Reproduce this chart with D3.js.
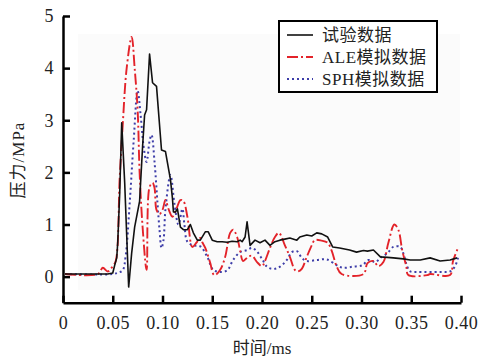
<!DOCTYPE html>
<html>
<head>
<meta charset="utf-8">
<script src="https://cdn.jsdelivr.net/npm/d3@7"></script>
<style>
  body { margin: 0; background: #fff; }
  svg { display: block; }
</style>
</head>
<body>
<script>
// time (ms) and pressure (MPa)
const expT = [0.002, 0.045, 0.050, 0.052, 0.054, 0.055, 0.057, 0.059, 0.062, 0.066, 0.069, 0.072, 0.077, 0.080, 0.082, 0.084, 0.087, 0.090, 0.094, 0.099, 0.103, 0.108, 0.110, 0.111, 0.113, 0.115, 0.118, 0.121, 0.125, 0.128, 0.131, 0.135, 0.138, 0.143, 0.146, 0.150, 0.155, 0.160, 0.165, 0.170, 0.175, 0.178, 0.180, 0.183, 0.185, 0.188, 0.193, 0.198, 0.203, 0.208, 0.213, 0.218, 0.223, 0.228, 0.235, 0.238, 0.245, 0.250, 0.255, 0.260, 0.266, 0.271, 0.278, 0.288, 0.295, 0.302, 0.306, 0.312, 0.319, 0.326, 0.332, 0.342, 0.349, 0.359, 0.369, 0.379, 0.389, 0.396];
const expP = [0.05, 0.05, 0.07, 0.22, 0.36, 0.65, 1.6, 2.95, 1.8, -0.2, 0.45, 0.95, 1.45, 2.5, 3.1, 3.2, 4.27, 3.72, 3.65, 2.43, 2.4, 1.86, 1.5, 1.24, 1.24, 1.3, 0.95, 0.9, 0.9, 1.0, 0.84, 0.7, 0.7, 0.86, 0.86, 0.7, 0.67, 0.67, 0.66, 0.68, 0.67, 0.7, 0.67, 0.76, 1.05, 0.6, 0.7, 0.65, 0.7, 0.6, 0.67, 0.7, 0.72, 0.74, 0.7, 0.76, 0.8, 0.78, 0.84, 0.82, 0.76, 0.57, 0.55, 0.51, 0.47, 0.5, 0.49, 0.51, 0.38, 0.37, 0.36, 0.34, 0.32, 0.32, 0.36, 0.3, 0.32, 0.36];

const aleT = [0.002, 0.035, 0.040, 0.045, 0.050, 0.053, 0.057, 0.060, 0.064, 0.069, 0.072, 0.075, 0.077, 0.080, 0.084, 0.087, 0.090, 0.092, 0.094, 0.097, 0.100, 0.103, 0.106, 0.110, 0.114, 0.118, 0.121, 0.125, 0.130, 0.134, 0.138, 0.140, 0.143, 0.148, 0.151, 0.153, 0.158, 0.163, 0.168, 0.171, 0.175, 0.178, 0.181, 0.186, 0.190, 0.195, 0.200, 0.203, 0.208, 0.213, 0.217, 0.223, 0.228, 0.233, 0.236, 0.240, 0.245, 0.250, 0.253, 0.260, 0.266, 0.270, 0.275, 0.280, 0.302, 0.306, 0.312, 0.317, 0.322, 0.327, 0.333, 0.337, 0.341, 0.345, 0.347, 0.366, 0.369, 0.389, 0.392, 0.397];
const aleP = [0.05, 0.05, 0.17, 0.1, 0.2, 0.3, 1.9, 2.9, 4.0, 4.6, 4.0, 3.2, 2.0, 0.95, 0.13, 1.72, 1.8, 1.7, 1.28, 1.2, 1.28, 1.47, 1.3, 1.15, 1.3, 1.47, 1.45, 1.15, 0.57, 0.65, 0.74, 0.66, 0.55, 0.26, 0.05, 0.03, 0.13, 0.38, 0.84, 0.9, 0.76, 0.5, 0.3, 0.38, 0.4, 0.28, 0.2, 0.3, 0.55, 0.76, 0.84, 0.6, 0.38, 0.13, 0.1, 0.15, 0.38, 0.6, 0.7, 0.69, 0.65, 0.5, 0.2, 0.05, 0.05, 0.26, 0.3, 0.2, 0.28, 0.65, 1.0, 0.9, 0.5, 0.2, 0.03, 0.03, 0.05, 0.03, 0.3, 0.55];

const sphT = [0.002, 0.050, 0.056, 0.060, 0.063, 0.067, 0.071, 0.075, 0.078, 0.081, 0.084, 0.087, 0.089, 0.092, 0.095, 0.097, 0.099, 0.101, 0.103, 0.108, 0.112, 0.116, 0.120, 0.122, 0.125, 0.131, 0.138, 0.145, 0.151, 0.158, 0.165, 0.171, 0.178, 0.185, 0.190, 0.195, 0.200, 0.205, 0.210, 0.215, 0.220, 0.225, 0.230, 0.235, 0.240, 0.245, 0.255, 0.265, 0.275, 0.281, 0.291, 0.301, 0.307, 0.314, 0.319, 0.326, 0.332, 0.339, 0.342, 0.346, 0.349, 0.356, 0.379, 0.389, 0.394, 0.397];
const sphP = [0.05, 0.05, 0.08, 0.12, 0.4, 1.4, 2.6, 3.57, 3.1, 2.5, 2.2, 2.6, 2.72, 2.2, 1.4, 0.9, 0.55, 0.7, 1.3, 1.95, 1.4, 1.0, 1.3, 1.0, 0.67, 0.6, 0.58, 0.38, 0.13, 0.09, 0.12, 0.32, 0.47, 0.51, 0.55, 0.48, 0.34, 0.19, 0.15, 0.16, 0.22, 0.32, 0.47, 0.49, 0.36, 0.3, 0.32, 0.33, 0.22, 0.17, 0.19, 0.22, 0.32, 0.28, 0.36, 0.45, 0.57, 0.57, 0.45, 0.19, 0.1, 0.09, 0.09, 0.1, 0.2, 0.36];

const xTicks = [0, 0.05, 0.10, 0.15, 0.20, 0.25, 0.30, 0.35, 0.40];
const yTicks = [0, 1, 2, 3, 4, 5];
const seriesNames = ["试验数据", "ALE模拟数据", "SPH模拟数据"];

const width = 479, height = 360;
const serif = "'Liberation Serif', 'Times New Roman', 'Noto Sans CJK SC', serif";

const x = d3.scaleLinear().domain([0, 0.4]).range([63, 461]);
const y = d3.scaleLinear().domain([-0.5, 5]).range([302.7, 16]);

const svg = d3.select("body").append("svg")
    .attr("width", width)
    .attr("height", height)
    .style("font-family", serif);

// faint panel behind the curves
svg.append("rect")
    .attr("x", 78).attr("y", 34)
    .attr("width", 382).attr("height", 256)
    .attr("fill", "#fbfbfb");

const series = [
  {name: seriesNames[0], t: expT, p: expP, color: "#111", dash: null, width: 1.6, curve: d3.curveLinear},
  {name: seriesNames[1], t: aleT, p: aleP, color: "#e3232a", dash: "11,3,2,3", width: 1.9, curve: d3.curveCatmullRom},
  {name: seriesNames[2], t: sphT, p: sphP, color: "#3d3da8", dash: "2,3", width: 2, curve: d3.curveCatmullRom}
];

// experiment drawn last so it sits on top
[series[2], series[1], series[0]].forEach(s => {
  const line = d3.line()
      .x((d, i) => x(s.t[i]))
      .y(d => y(d))
      .curve(s.curve);
  svg.append("path")
      .datum(s.p)
      .attr("fill", "none")
      .attr("stroke", s.color)
      .attr("stroke-width", s.width)
      .attr("stroke-dasharray", s.dash)
      .attr("stroke-linejoin", "round")
      .attr("d", line);
});

const xAxis = svg.append("g")
    .attr("transform", `translate(0,${y.range()[0]})`)
    .call(d3.axisBottom(x)
      .tickValues(xTicks)
      .tickSize(-7)
      .tickSizeOuter(0)
      .tickPadding(14)
      .tickFormat(d => d === 0 ? "0" : d.toFixed(2)));

const yAxis = svg.append("g")
    .attr("transform", `translate(${x.range()[0]},0)`)
    .call(d3.axisLeft(y)
      .tickValues(yTicks)
      .tickSize(-7)
      .tickSizeOuter(0)
      .tickPadding(9)
      .tickFormat(d3.format("d")));

[xAxis, yAxis].forEach(g => {
  g.attr("font-size", null).attr("font-family", null);
  g.select(".domain").attr("stroke", "#000").attr("stroke-width", 2.5);
  g.selectAll(".tick line").attr("stroke", "#000").attr("stroke-width", 2.5);
  g.selectAll(".tick text")
      .attr("fill", "#222")
      .style("font-family", serif)
      .style("font-size", "18px")
      .style("letter-spacing", "0.5px");
});

svg.append("text")
    .attr("x", 262).attr("y", 354)
    .attr("text-anchor", "middle")
    .attr("fill", "#222")
    .style("font-size", "17px")
    .text("时间/ms");

svg.append("text")
    .attr("transform", "translate(24,160) rotate(-90)")
    .attr("text-anchor", "middle")
    .attr("fill", "#222")
    .style("font-size", "17px")
    .style("letter-spacing", "1px")
    .text("压力/MPa");

// legend
const legend = svg.append("g");
legend.append("rect")
    .attr("x", 279).attr("y", 21)
    .attr("width", 158).attr("height", 71)
    .attr("fill", "#fff")
    .attr("stroke", "#000")
    .attr("stroke-width", 2);

const row = legend.selectAll("g.row")
  .data(series)
  .enter().append("g")
    .attr("class", "row")
    .attr("transform", (d, i) => `translate(0,${35 + i * 22})`);

row.append("line")
    .attr("x1", 287).attr("x2", 313)
    .attr("stroke", d => d.color)
    .attr("stroke-width", d => d.width)
    .attr("stroke-dasharray", d => d.dash);

row.append("text")
    .attr("x", 322).attr("y", 6)
    .attr("fill", "#222")
    .style("font-size", "17px")
    .style("letter-spacing", "0.5px")
    .text(d => d.name);
</script>
</body>
</html>
